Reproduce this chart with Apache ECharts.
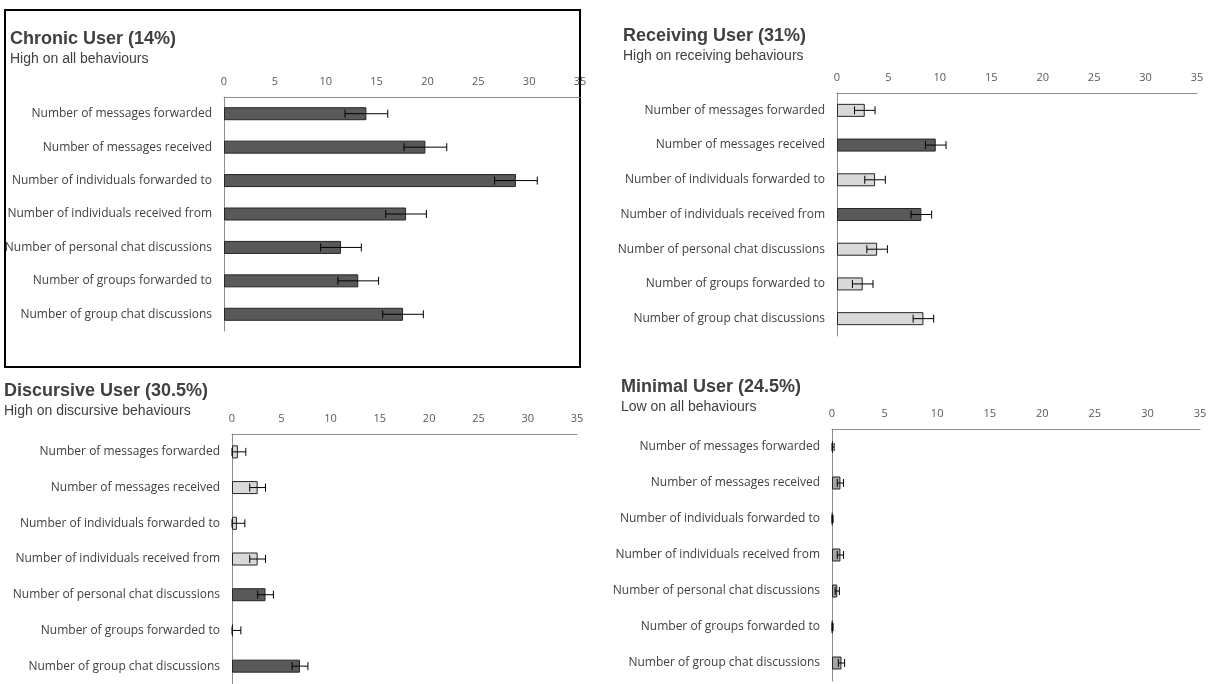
<!DOCTYPE html>
<html>
<head>
<meta charset="utf-8">
<script src="https://cdn.jsdelivr.net/npm/echarts@6/dist/echarts.min.js"></script>
<style>
  html, body { margin:0; padding:0; background:#fff; }
  #main { width:1217px; height:684px; }
</style>
</head>
<body>
<div id="main"></div>
<script>
// 类别与数据
var categories = ['Number of messages forwarded','Number of messages received','Number of individuals forwarded to',
  'Number of individuals received from','Number of personal chat discussions','Number of groups forwarded to',
  'Number of group chat discussions'];
var ticks = [0,5,10,15,20,25,30,35];

var chronicVals = [14.0, 19.8, 28.7, 17.9, 11.5, 13.2, 17.6];
var chronicErr  = [2.1, 2.1, 2.1, 2.0, 2.0, 2.0, 2.0];
var receivingVals = [2.7, 9.6, 3.7, 8.2, 3.9, 2.5, 8.4];
var receivingErr  = [1.0, 1.0, 1.0, 1.0, 1.0, 1.0, 1.0];
var discursiveVals = [0.6, 2.6, 0.5, 2.6, 3.4, 0.1, 6.9];
var discursiveErr  = [0.8, 0.8, 0.8, 0.8, 0.8, 0.8, 0.8];
var minimalVals = [0.1, 0.8, 0.05, 0.8, 0.5, 0.05, 0.9];
var minimalErr  = [0.1, 0.3, 0.05, 0.3, 0.2, 0.05, 0.3];

var DARK = '#595959', LIGHT = '#d9d9d9', MID = '#a6a6a6';
var receivingColors = [LIGHT, DARK, LIGHT, DARK, LIGHT, LIGHT, LIGHT];
var discursiveColors = [LIGHT, LIGHT, LIGHT, LIGHT, DARK, LIGHT, DARK];

var panels = [
  {title:'Chronic User (14%)', sub:'High on all behaviours', tx:10, ty:30, grid:{left:224, width:356, top:97, height:234},
   vals:chronicVals, err:chronicErr, colors:null, color:DARK},
  {title:'Receiving User (31%)', sub:'High on receiving behaviours', tx:623, ty:27, grid:{left:837, width:360, top:93, height:243},
   vals:receivingVals, err:receivingErr, colors:receivingColors},
  {title:'Discursive User (30.5%)', sub:'High on discursive behaviours', tx:4, ty:382, grid:{left:232, width:345, top:434, height:250},
   vals:discursiveVals, err:discursiveErr, colors:discursiveColors},
  {title:'Minimal User (24.5%)', sub:'Low on all behaviours', tx:621, ty:378, grid:{left:832, width:368, top:429, height:252},
   vals:minimalVals, err:minimalErr, colors:null, color:MID}
];

var option = {
  animation:false,
  textStyle:{fontFamily:'Open Sans, Liberation Sans, sans-serif'},
  title:[], grid:[], xAxis:[], yAxis:[], series:[],
  graphic:[{type:'rect', shape:{x:5, y:10, width:575, height:357}, style:{fill:'none', stroke:'#000', lineWidth:2}}]
};

panels.forEach(function(p, i) {
  option.title.push({text:p.title, subtext:p.sub, left:p.tx, top:p.ty, itemGap:4, padding:0,
    textStyle:{fontSize:18, fontWeight:'bold', color:'#404040', fontFamily:'Liberation Sans, Arial'},
    subtextStyle:{fontSize:14, color:'#404040', fontFamily:'Liberation Sans, Arial'}});
  option.grid.push({left:p.grid.left, width:p.grid.width, top:p.grid.top, height:p.grid.height});
  option.xAxis.push({gridIndex:i, type:'value', position:'top', min:0, max:35, interval:5,
    axisLine:{show:true, lineStyle:{color:'#8c8c8c'}}, axisTick:{show:false}, splitLine:{show:false},
    axisLabel:{color:'#595959', fontSize:11, margin:10}});
  option.yAxis.push({gridIndex:i, type:'category', inverse:true, data:categories,
    axisLine:{show:true, lineStyle:{color:'#8c8c8c'}}, axisTick:{show:false},
    axisLabel:{color:'#404040', fontSize:12, margin:12}});
  option.series.push({type:'bar', xAxisIndex:i, yAxisIndex:i, barWidth:13,
    data:p.vals.map(function(v, k) {
      return {value:v, itemStyle:{color:p.colors ? p.colors[k] : p.color, borderColor:'#262626', borderWidth:1}};
    })});
  option.series.push({type:'custom', xAxisIndex:i, yAxisIndex:i, z:5,
    data:p.vals.map(function(v, k) { return [v, p.err[k], k]; }),
    renderItem:function(params, api) {
      var v = api.value(0), e = api.value(1), k = api.value(2);
      var a = api.coord([Math.max(0, v - e), k]), b = api.coord([v + e, k]);
      var st = {stroke:'#000', lineWidth:1};
      return {type:'group', children:[
        {type:'line', shape:{x1:a[0], y1:a[1], x2:b[0], y2:b[1]}, style:st},
        {type:'line', shape:{x1:a[0], y1:a[1]-4, x2:a[0], y2:a[1]+4}, style:st},
        {type:'line', shape:{x1:b[0], y1:b[1]-4, x2:b[0], y2:b[1]+4}, style:st}
      ]};
    }});
});

echarts.init(document.getElementById('main')).setOption(option);
</script>
</body>
</html>
